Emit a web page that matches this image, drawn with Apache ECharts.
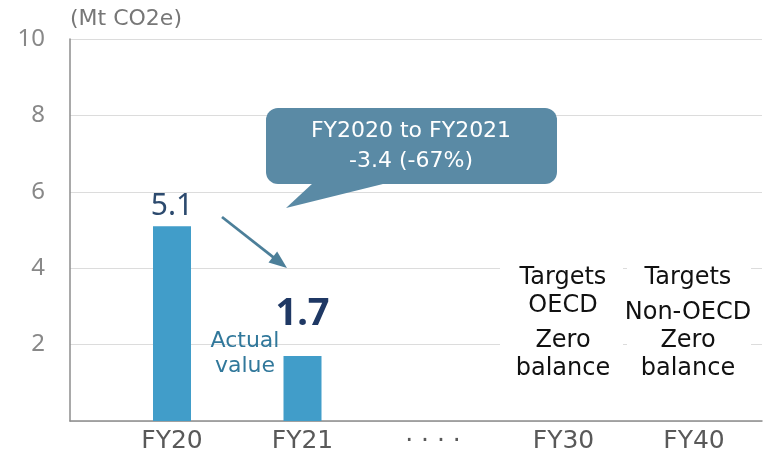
<!DOCTYPE html>
<html>
<head>
<meta charset="utf-8">
<script src="https://cdn.jsdelivr.net/npm/echarts@6/dist/echarts.min.js"></script>
<style>
  html, body { margin: 0; padding: 0; background: #fff; }
  #chart { width: 763px; height: 457px; }
</style>
</head>
<body>
<div id="chart"></div>
<script>
// categories on the x axis (FY20/FY21 actual, the rest are targets)
const categories = ['FY20', 'FY21', '· · · ·', 'FY30', 'FY40']
const actualValues = [5.1, 1.7]
const yTicks = [0, 2, 4, 6, 8, 10]

const barColor = '#419dc9'
const font = '"Noto Sans", sans-serif'
const wideFont = '"DejaVu Sans", sans-serif'

const chart = echarts.init(document.getElementById('chart'))

const barData = actualValues.map((v, i) => {
  const item = { value: [i, v] }
  if (i === 1) {
    // the FY21 value is emphasised in the original
    item.label = { fontSize: 38, fontWeight: 'bold', color: '#1f3864', distance: 23 }
  }
  return item
})

// arrow from FY20 towards FY21
const arrowFrom = [222, 217]
const arrowTip = [287, 268]
const dx = arrowTip[0] - arrowFrom[0], dy = arrowTip[1] - arrowFrom[1]
const len = Math.sqrt(dx * dx + dy * dy)
const ux = dx / len, uy = dy / len
const headLen = 18, headW = 7
const base = [arrowTip[0] - ux * headLen, arrowTip[1] - uy * headLen]

function targetText(txt, x, y) {
  return {
    type: 'text', z: 101, x: x, y: y,
    style: { text: txt, font: '24px ' + wideFont, fill: '#111', align: 'center', verticalAlign: 'middle' }
  }
}

chart.setOption({
  animation: false,
  grid: { left: 70, right: 1, top: 39, bottom: 36 },
  xAxis: {
    type: 'value',
    min: -0.7816,
    max: 4.521,
    axisLine: { show: true, onZero: false, lineStyle: { color: '#8c8c8c', width: 1.5 } },
    axisTick: { show: false },
    splitLine: { show: false },
    axisLabel: {
      customValues: categories.map((c, i) => i),
      formatter: v => categories[Math.round(v)],
      color: '#595959',
      fontFamily: wideFont,
      fontSize: 25,
      margin: 8
    }
  },
  yAxis: {
    type: 'value',
    min: yTicks[0],
    max: yTicks[yTicks.length - 1],
    interval: 2,
    name: '(Mt CO2e)',
    nameLocation: 'end',
    nameGap: 9,
    nameTextStyle: { align: 'left', color: '#777', fontFamily: wideFont, fontSize: 22 },
    axisLine: { show: true, onZero: false, lineStyle: { color: '#8c8c8c', width: 1.5 } },
    axisTick: { show: false },
    splitLine: { lineStyle: { color: '#dcdcdc', width: 1 } },
    axisLabel: {
      formatter: v => (v === 0 ? '' : v),
      color: '#888',
      fontFamily: font,
      fontSize: 24,
      margin: 25
    }
  },
  series: [{
    type: 'bar',
    barWidth: 38,
    data: barData,
    itemStyle: { color: barColor },
    label: {
      show: true,
      position: 'top',
      distance: 5,
      formatter: p => p.value[1].toFixed(1),
      fontFamily: font,
      fontSize: 30,
      color: '#2c4a6e'
    }
  }],
  graphic: [
    // callout bubble
    {
      type: 'rect', z: 100,
      shape: { x: 266, y: 108, width: 291, height: 76, r: 12 },
      style: { fill: '#5a8aa5' }
    },
    {
      type: 'polygon', z: 100,
      shape: { points: [[313, 183], [387, 183], [286, 208]] },
      style: { fill: '#5a8aa5' }
    },
    {
      type: 'text', z: 101, x: 411, y: 131,
      style: { text: 'FY2020 to FY2021', font: '22px ' + wideFont, fill: '#fff', align: 'center', verticalAlign: 'middle' }
    },
    {
      type: 'text', z: 101, x: 411, y: 161,
      style: { text: '-3.4 (-67%)', font: '22px ' + wideFont, fill: '#fff', align: 'center', verticalAlign: 'middle' }
    },
    // arrow
    {
      type: 'line', z: 100,
      shape: { x1: arrowFrom[0], y1: arrowFrom[1], x2: base[0] + ux * 2, y2: base[1] + uy * 2 },
      style: { stroke: '#4c7f99', lineWidth: 2.8 }
    },
    {
      type: 'polygon', z: 100,
      shape: { points: [arrowTip, [base[0] - uy * headW, base[1] + ux * headW], [base[0] + uy * headW, base[1] - ux * headW]] },
      style: { fill: '#4c7f99' }
    },
    // actual value note
    {
      type: 'text', z: 101, x: 245, y: 341,
      style: { text: 'Actual', font: '22px ' + wideFont, fill: '#31789b', align: 'center', verticalAlign: 'middle' }
    },
    {
      type: 'text', z: 101, x: 245, y: 366,
      style: { text: 'value', font: '22px ' + wideFont, fill: '#31789b', align: 'center', verticalAlign: 'middle' }
    },
    // target text boxes
    { type: 'rect', z: 100, shape: { x: 500, y: 262, width: 123, height: 122 }, style: { fill: '#fff' } },
    { type: 'rect', z: 100, shape: { x: 627, y: 262, width: 124, height: 122 }, style: { fill: '#fff' } },
    targetText('Targets', 563, 278),
    targetText('OECD', 563, 306),
    targetText('Zero', 563, 341),
    targetText('balance', 563, 369),
    targetText('Targets', 688, 278),
    targetText('Non-OECD', 688, 313),
    targetText('Zero', 688, 341),
    targetText('balance', 688, 369)
  ]
})
</script>
</body>
</html>
